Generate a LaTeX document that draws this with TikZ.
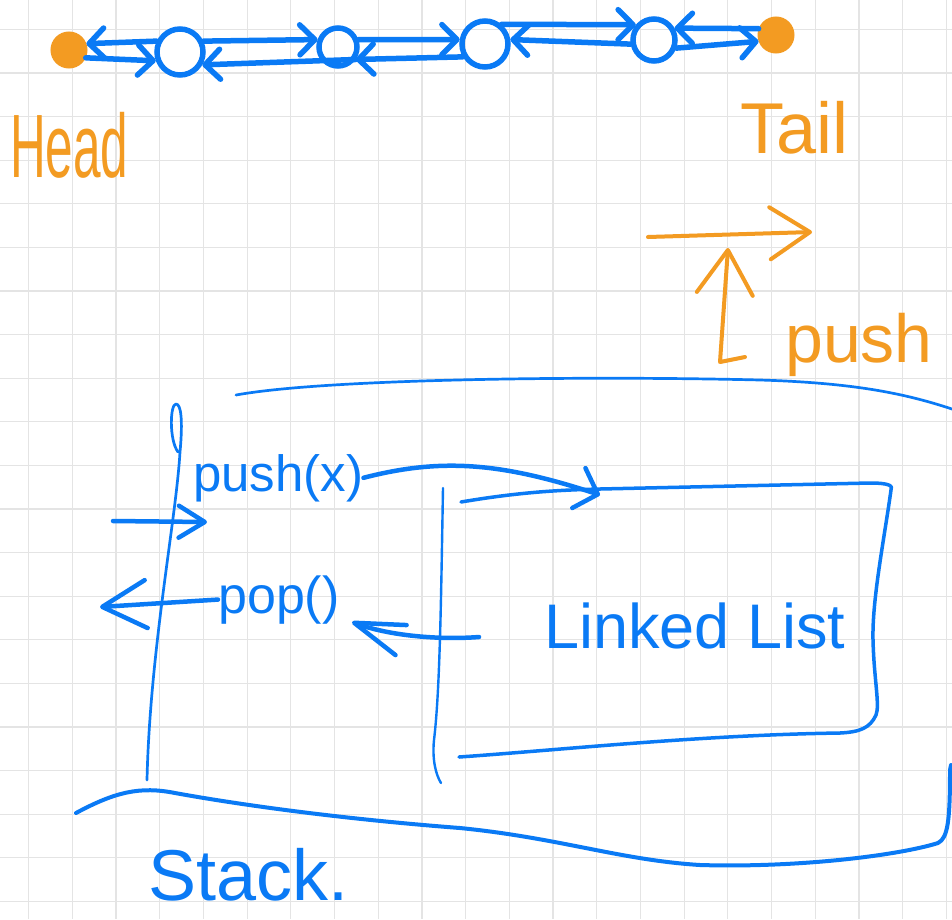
\documentclass[tikz,border=0pt]{standalone}
\usepackage{fontspec}
\setmainfont{Liberation Sans}
\usetikzlibrary{arrows.meta}
\definecolor{penblue}{RGB}{10,122,245}
\definecolor{penorange}{RGB}{243,155,34}
\definecolor{gridgrey}{RGB}{228,228,228}
\def\handfont#1{\fontsize{#1}{#1}\selectfont}% Syntax: \handfont{size}

\begin{document}
\begin{tikzpicture}[x=1pt,y=-1pt,
	pen/.style={line cap=round,line join=round},
	box/.style={pen,draw=penblue,line width=3.5pt},
	wall/.style={pen,draw=penblue,line width=2.7pt},
	cell/.style={circle,draw=penblue,line width=5.5pt,inner sep=0pt},
	dot/.style={circle,fill=penorange,draw=penorange,line width=3pt,inner sep=0pt},
	link/.style={pen,penblue,line width=5.5pt,-{Straight Barb[length=15pt,width=30pt,round]}},
	flow/.style={pen,penblue,line width=4.5pt},
	note/.style={pen,penorange,line width=4pt},
	hand/.style={inner sep=0pt,anchor=base west}]
	%PAPER
	\fill[white] (0,0) rectangle (952,919);
	\useasboundingbox (0,0) rectangle (952,919);
	\foreach \gx in {0,...,21}
		\draw[gridgrey,line width=1.2pt] ({28.6+43.7*\gx},0)--({28.6+43.7*\gx},919);
	\foreach \gy in {0,...,20}
		\draw[gridgrey,line width=1.2pt] (0,{29.3+43.6*\gy})--(952,{29.3+43.6*\gy});

	%DOUBLY LINKED LIST
	\node[dot,minimum size=34pt] (head) at (69,50) {};
	\node[cell,minimum size=46pt] (n1) at (180,52) {};
	\node[cell,minimum size=38pt] (n2) at (338,47) {};
	\node[cell,minimum size=46pt] (n3) at (485,44) {};
	\node[cell,minimum size=42pt] (n4) at (654,40) {};
	\node[dot,minimum size=34pt] (tail) at (776,35) {};
	%
	\draw[link] (n1.155)--(head.20);
	\draw[link] (head.-25)--(n1.200);
	\draw[link] (n1.25)--(n2.160);
	\draw[link] (n2.-35)--(n1.-30);
	\draw[link] (n2.20)--(n3.170);
	\draw[link] (n3.-150)--(n2.-35);
	\draw[link] (n3.50)--(n4.140);
	\draw[link] (n4.190)--(n3.10);
	\draw[link] (tail.160)--(n4.30);
	\draw[link] (n4.-20)--(tail.200);

	%HEAD, TAIL AND PUSH NOTES
	\node[hand,text=penorange] (headlbl) at (10,177) {\handfont{90pt}\scalebox{0.55}[1]{Head}};
	\node[hand,text=penorange] (taillbl) at (740,153) {\handfont{72pt}Tail};
	\node[hand,text=penorange] (pushlbl) at (785,362) {\handfont{68pt}push};
	%
	\coordinate (tailfrom) at (648,237);
	\coordinate (tailto) at (812,232);
	\coordinate (pushfoot) at (745,357);
	\coordinate (pushtop) at (728,248);
	\draw[note,-{Straight Barb[length=40pt,width=52pt,round]}] (tailfrom)--(tailto);
	\draw[note,-{Straight Barb[length=44pt,width=56pt,round]}] (pushfoot)--(720,362)--(pushtop);

	%STACK
	\draw[wall] (236,395) .. controls (330,378) and (600,376) .. (760,380)
		.. controls (860,383) and (910,395) .. (955,410);
	\draw[wall] (147,780) .. controls (150,650) and (176,520) .. (180,452)
		.. controls (183,420) and (181,404) .. (176,404)
		.. controls (170,404) and (169,440) .. (178,452);
	\draw[box,line width=4pt] (76,813) .. controls (115,792) and (140,786) .. (175,793)
		.. controls (230,803) and (330,818) .. (460,828)
		.. controls (560,838) and (620,860) .. (700,865)
		.. controls (800,868) and (900,855) .. (938,843)
		.. controls (948,838) and (950,820) .. (950,770)--(951,765);
	\draw[wall,line width=2.4pt] (443,488) .. controls (441,600) and (440,690) .. (434,740)
		.. controls (432,760) and (436,775) .. (441,783);

	%LINKED LIST BOX
	\draw[box] (461,502) .. controls (520,492) and (560,490) .. (600,489)--(870,483)
		.. controls (890,483) and (893,486) .. (891,490)
		.. controls (884,540) and (872,600) .. (873,640)
		.. controls (874,680) and (880,705) .. (876,715)
		.. controls (870,728) and (860,732) .. (840,733)
		.. controls (700,735) and (560,750) .. (459,757);

	%CAPTIONS
	\node[hand,text=penblue] (pushx) at (193,491) {\handfont{51pt}push(x)};
	\node[hand,text=penblue] (pop) at (218,613) {\handfont{52pt}pop()};
	\node[hand,text=penblue] (llist) at (544,648) {\handfont{63pt}Linked List};
	\node[hand,text=penblue] (stack) at (148,900) {\handfont{72pt}Stack.};

	%PUSH AND POP
	\coordinate (pushin) at (113,521);
	\coordinate (pushat) at (207,522);
	\coordinate (llin) at (600,495);
	\coordinate (llout) at (479,637);
	\coordinate (popat) at (352,622);
	\coordinate (popout) at (100,607);
	\draw[flow,-{Straight Barb[length=26pt,width=32pt,round]}] (pushin)--(pushat);
	\draw[flow,-{Straight Barb[length=20pt,width=42pt,round]}] (pushx.east) .. controls (440,458) and (500,462) .. (llin);
	\draw[flow,-{Straight Barb[length=50pt,width=32pt,round]}] (llout) .. controls (440,640) and (390,636) .. (popat);
	\draw[flow,-{Straight Barb[length=44pt,width=48pt,round]}] (pop.west)--(popout);
\end{tikzpicture}
\end{document}
